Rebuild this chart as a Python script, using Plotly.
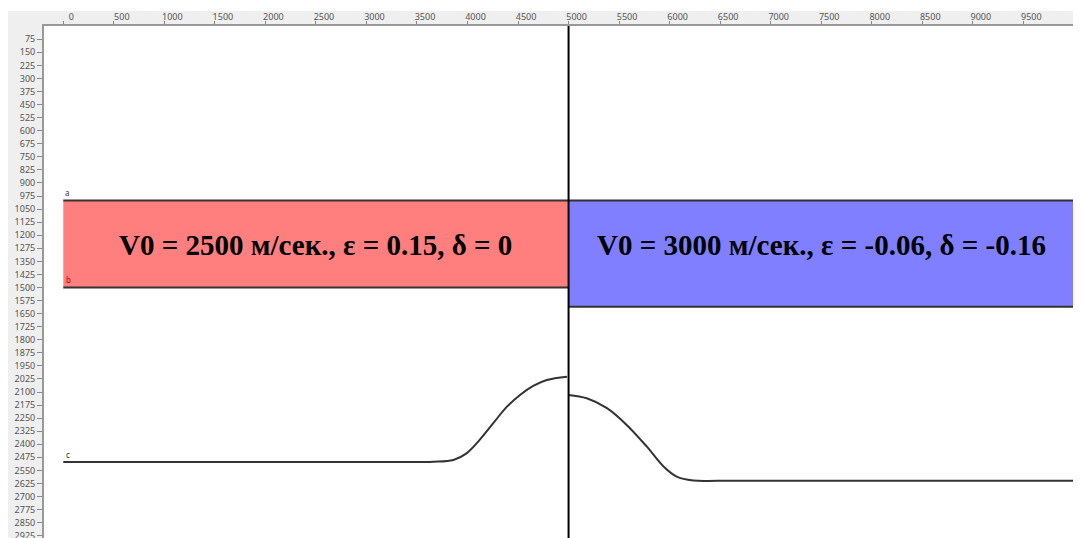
import plotly.graph_objects as go

# Data
x_ticks = list(range(0, 10001, 500))
x_tick_text = [str(v) if v < 10000 else "" for v in x_ticks]
y_ticks = list(range(75, 2926, 75))

# layer boundaries (x, depth)
horizon_a_x = [0, 10000]
horizon_a_y = [1000, 1000]
left_b_x = [0, 5000]
left_b_y = [1500, 1500]
right_b_x = [5000, 10000]
right_b_y = [1610, 1610]
fault_x = 5000

# horizon c, left block
c_left_x = [0, 3333, 3660, 3860, 3990, 4120, 4255, 4390, 4520, 4650, 4785, 4985]
c_left_y = [2502, 2502, 2500, 2490, 2452, 2375, 2279, 2184, 2117, 2065, 2031, 2012]
# horizon c, right block
c_right_x = [5000, 5180, 5380, 5575, 5775, 5940, 6070, 6235, 6500, 10000]
c_right_y = [2117, 2136, 2193, 2289, 2414, 2528, 2586, 2608, 2610, 2610]

left_label = "V0 = 2500 м/сек., ε = 0.15, δ = 0"
right_label = "V0 = 3000 м/сек., ε = -0.06, δ = -0.16"

fig = go.Figure()

RED = "#FF7F7F"
BLUE = "#7F7FFF"
LINE = "#333333"

# filled blocks
fig.add_trace(go.Scatter(x=[left_b_x[0], left_b_x[1], left_b_x[1], left_b_x[0], left_b_x[0]],
                         y=[horizon_a_y[0], horizon_a_y[0], left_b_y[0], left_b_y[0], horizon_a_y[0]],
                         fill="toself", fillcolor=RED, mode="none", hoverinfo="skip"))
fig.add_trace(go.Scatter(x=[right_b_x[0], right_b_x[1], right_b_x[1], right_b_x[0], right_b_x[0]],
                         y=[horizon_a_y[1], horizon_a_y[1], right_b_y[0], right_b_y[0], horizon_a_y[1]],
                         fill="toself", fillcolor=BLUE, mode="none", hoverinfo="skip"))

# boundaries
for xs, ys in [(horizon_a_x, horizon_a_y), (left_b_x, left_b_y), (right_b_x, right_b_y)]:
    fig.add_trace(go.Scatter(x=xs, y=ys, mode="lines", line=dict(color=LINE, width=2)))
fig.add_trace(go.Scatter(x=c_left_x, y=c_left_y, mode="lines",
                         line=dict(color=LINE, width=2, shape="spline", smoothing=1.0)))
fig.add_trace(go.Scatter(x=c_right_x, y=c_right_y, mode="lines",
                         line=dict(color=LINE, width=2, shape="spline", smoothing=1.0)))

# fault line
fig.add_trace(go.Scatter(x=[fault_x, fault_x], y=[-100, 3100], mode="lines",
                         line=dict(color="black", width=2)))

# block labels
fig.add_annotation(x=2500, y=1255, text=left_label, showarrow=False,
                   font=dict(family="Liberation Serif", size=29, color="black", weight="bold"))
fig.add_annotation(x=7500, y=1255, text=right_label, showarrow=False,
                   font=dict(family="Liberation Serif", size=29, color="black", weight="bold"))

# small horizon labels
small = dict(family="Noto Sans", size=8)
fig.add_annotation(x=0, y=horizon_a_y[0], text="a", showarrow=False, xanchor="left", yanchor="bottom",
                   xshift=0, font=dict(color="#333333", **small))
fig.add_annotation(x=0, y=left_b_y[0], text="b", showarrow=False, xanchor="left", yanchor="bottom",
                   xshift=1, font=dict(color="#c00000", **small))
fig.add_annotation(x=0, y=c_left_y[0], text="c", showarrow=False, xanchor="left", yanchor="bottom",
                   xshift=1, font=dict(color="#333333", **small))
fig.add_annotation(x=10000, y=horizon_a_y[1], text="a", showarrow=False, xanchor="left", yanchor="bottom",
                   xshift=0, font=dict(color="#444444", **small))
fig.add_annotation(x=10000, y=right_b_y[0], text="b", showarrow=False, xanchor="left", yanchor="bottom",
                   xshift=0, font=dict(color="#444444", **small))
fig.add_annotation(x=10000, y=c_right_y[-1], text="c", showarrow=False, xanchor="left", yanchor="bottom",
                   xshift=0, font=dict(color="#444444", **small))

W, H = 1081, 538
L, T = 36, 18
pw, ph = W - L, H - T
# gray axis bands
fig.add_shape(type="rect", xref="paper", yref="paper", x0=-L / pw, x1=0, y0=-0.1, y1=1 + (T - 3) / ph,
              fillcolor="#efefef", line_width=0, layer="below")
fig.add_shape(type="rect", xref="paper", yref="paper", x0=-L / pw, x1=1.05, y0=1, y1=1 + (T - 3) / ph,
              fillcolor="#efefef", line_width=0, layer="below")

axis_font = dict(family="Noto Sans", size=9, color="#555555")
fig.update_layout(
    width=W, height=H,
    margin=dict(l=L, r=0, t=T, b=0),
    paper_bgcolor="white", plot_bgcolor="white",
    showlegend=False,
    xaxis=dict(side="top", range=[-191, 10150], tickvals=x_ticks, ticktext=x_tick_text,
               ticks="outside", ticklen=3, tickcolor="#888888", tickfont=axis_font,
               showgrid=False, zeroline=False, showline=True, linecolor="#999999", linewidth=2,
               ticklabelshift=8, ticklabelstandoff=-3),
    yaxis=dict(range=[2984, -1], tickvals=y_ticks, ticks="outside", ticklen=5, tickcolor="#888888",
               tickfont=axis_font, showgrid=False, zeroline=False, showline=True,
               linecolor="#999999", linewidth=2),
)

fig.write_html("out.html")
